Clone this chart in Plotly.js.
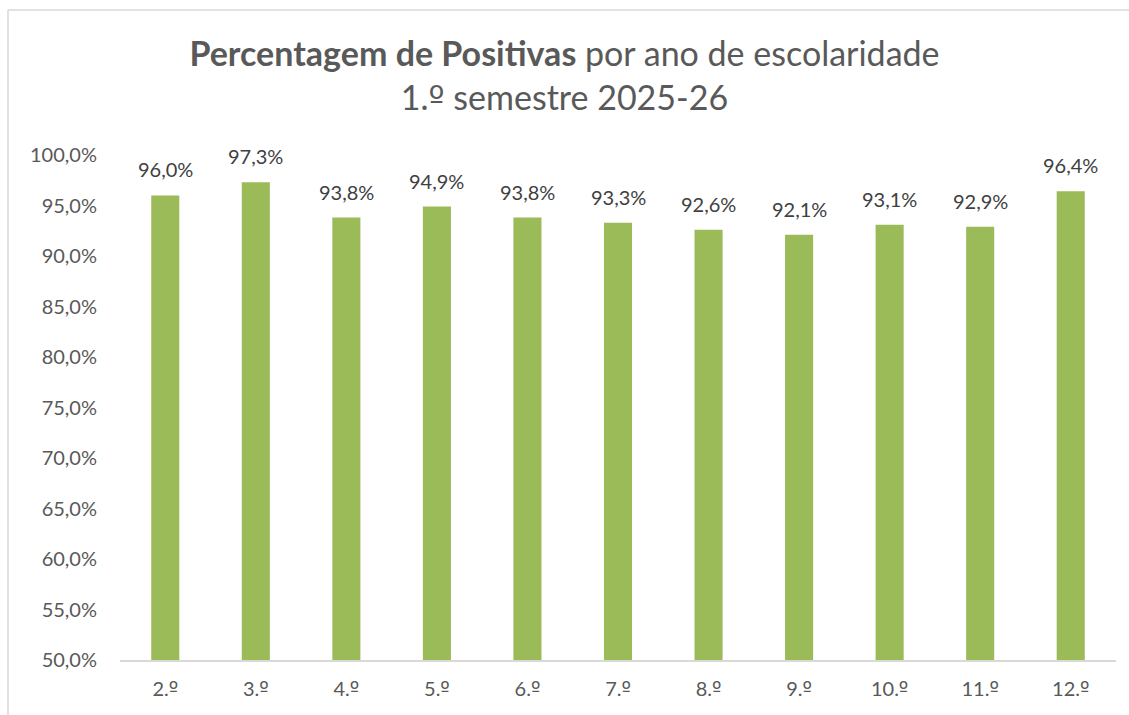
<!DOCTYPE html>
<html>
<head>
<meta charset="utf-8">
<script src="https://cdn.plot.ly/plotly-3.0.1.min.js"></script>
<style>
html,body{margin:0;padding:0;background:#fff;}
#chart{width:1129px;height:715px;}
</style>
</head>
<body>
<div id="chart"></div>
<script>
const categories = ["2.º","3.º","4.º","5.º","6.º","7.º","8.º","9.º","10.º","11.º","12.º"];
const values = [0.960, 0.973, 0.938, 0.949, 0.938, 0.933, 0.926, 0.921, 0.931, 0.929, 0.964];
const yTicks = [0.50,0.55,0.60,0.65,0.70,0.75,0.80,0.85,0.90,0.95,1.00];

const W = 1129, H = 715;
const M = {l:120, r:13, t:155, b:55};
const pw = W - M.l - M.r, ph = H - M.t - M.b;
const px = v => (v - M.l) / pw;
const py = v => (H - M.b - v) / ph;

const font = "Lato, 'Open Sans', sans-serif";
const ordFix = s => s.replace(/º/g, '<span style="font-family:DejaVu Sans">º</span>');
const fmt = v => (v * 100).toFixed(1).replace('.', ',') + '%';

const trace = {
  type: 'bar',
  x: categories,
  y: values,
  marker: {color: '#9BBB59'},
  width: 0.31,
  cliponaxis: false,
  hoverinfo: 'none'
};

const labels = categories.map((c, i) => ({
  x: c, y: values[i], xref: 'x', yref: 'y',
  text: fmt(values[i]),
  showarrow: false,
  xanchor: 'center', yanchor: 'bottom',
  yshift: 12,
  font: {family: font, size: 20, color: '#404040'}
}));

const layout = {
  width: W, height: H,
  margin: M,
  paper_bgcolor: '#ffffff',
  plot_bgcolor: '#ffffff',
  separators: ',.',
  showlegend: false,
  font: {family: font, color: '#595959'},
  title: {
    text: '<b>Percentagem de Positivas</b> por ano de escolaridade<br>' + ordFix('1.º semestre 2025-26'),
    font: {family: font, size: 34, color: '#595959'},
    x: 0.5, xref: 'container', xanchor: 'center',
    y: 1 - 66/H, yref: 'container', yanchor: 'top'
  },
  xaxis: {
    type: 'category',
    tickvals: categories,
    ticktext: categories.map(ordFix),
    showgrid: false,
    showline: true, linecolor: '#d9d9d9', linewidth: 1.5,
    ticks: '',
    ticklabelstandoff: 10,
    tickfont: {family: font, size: 20, color: '#595959'},
    fixedrange: true
  },
  yaxis: {
    range: [0.5, 1.0],
    tickvals: yTicks,
    tickformat: '.1%',
    showgrid: false,
    zeroline: false,
    showline: false,
    ticks: '',
    ticklabelstandoff: 22,
    tickfont: {family: font, size: 20, color: '#595959'},
    fixedrange: true
  },
  annotations: labels,
  shapes: [
    {type:'line', xref:'paper', yref:'paper', x0:px(8), x1:px(W+5), y0:py(10), y1:py(10), line:{color:'#d9d9d9', width:1.5}},
    {type:'line', xref:'paper', yref:'paper', x0:px(8), x1:px(8), y0:py(10), y1:py(H+5), line:{color:'#d9d9d9', width:1.5}}
  ]
};

Plotly.newPlot('chart', [trace], layout, {displayModeBar: false, staticPlot: true});
</script>
</body>
</html>
